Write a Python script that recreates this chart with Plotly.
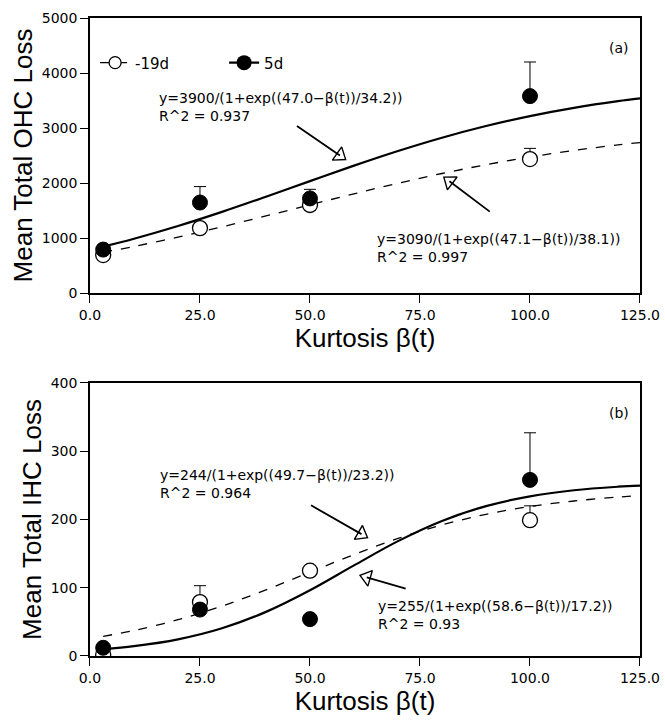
import plotly.graph_objects as go

# ---------------- data ----------------
x_pts = [3, 25, 50, 100]

ohc_m19 = [690, 1180, 1600, 2435]
ohc_m19_err = [0, 0, 0, 195]
ohc_5d = [790, 1645, 1720, 3580]
ohc_5d_err = [0, 290, 165, 620]

ihc_m19 = [2, 79, 125, 199]
ihc_m19_err = [0, 24, 0, 21]
ihc_5d = [12, 68, 54, 258]
ihc_5d_err = [0, 0, 0, 69]

# fitted curves
x_fit = [3, 10, 20, 30, 40, 50, 60, 70, 80, 90, 100, 110, 120, 125]
ohc_fit_5d = [844, 987, 1218, 1475, 1751, 2035, 2316, 2582, 2824, 3036, 3217, 3366, 3488, 3538]
ohc_fit_m19 = [739, 847, 1017, 1204, 1401, 1604, 1804, 1996, 2173, 2333, 2473, 2593, 2693, 2736]
ihc_fit_5d = [9.7, 14.3, 24.4, 40.6, 64.6, 96.3, 132.7, 168.3, 197.9, 219.6, 233.9, 242.8, 248.0, 249.7]
ihc_fit_m19 = [28.8, 37.3, 53.1, 73.1, 96.9, 122.8, 148.6, 172.2, 192.0, 207.5, 219.0, 227.1, 232.8, 234.9]

x_ticks = [0, 25, 50, 75, 100, 125]

TFONT = "Liberation Sans, Arial, sans-serif"
DFONT = "DejaVu Sans, sans-serif"

fig = go.Figure()

def add_panel(xa, ya, fit5, fitm, m19, m19e, d5, d5e):
    fig.add_trace(go.Scatter(x=x_fit, y=fitm, mode="lines", line=dict(color="black", width=1.3, dash="dash", shape="spline"),
                             xaxis=xa, yaxis=ya, showlegend=False, hoverinfo="skip"))
    fig.add_trace(go.Scatter(x=x_fit, y=fit5, mode="lines", line=dict(color="black", width=2.2, shape="spline"),
                             xaxis=xa, yaxis=ya, showlegend=False, hoverinfo="skip"))
    fig.add_trace(go.Scatter(x=x_pts, y=m19, mode="markers",
                             marker=dict(symbol="circle", size=15, color="white", line=dict(color="black", width=1.3)),
                             error_y=dict(type="data", array=m19e, arrayminus=[0]*4, symmetric=False, color="black", thickness=1, width=6),
                             xaxis=xa, yaxis=ya, showlegend=False))
    fig.add_trace(go.Scatter(x=x_pts, y=d5, mode="markers",
                             marker=dict(symbol="circle", size=15, color="black", line=dict(color="black", width=1)),
                             error_y=dict(type="data", array=d5e, arrayminus=[0]*4, symmetric=False, color="black", thickness=1, width=6),
                             xaxis=xa, yaxis=ya, showlegend=False))

add_panel("x", "y", ohc_fit_5d, ohc_fit_m19, ohc_m19, ohc_m19_err, ohc_5d, ohc_5d_err)
add_panel("x2", "y2", ihc_fit_5d, ihc_fit_m19, ihc_m19, ihc_m19_err, ihc_5d, ihc_5d_err)

# legend entries
fig.add_trace(go.Scatter(x=[None], y=[None], mode="lines+markers", name="-19d",
                         line=dict(color="black", width=1.3, dash="dash"),
                         marker=dict(symbol="circle", size=12, color="white", line=dict(color="black", width=1.3))))
fig.add_trace(go.Scatter(x=[None], y=[None], mode="lines+markers", name="5d",
                         line=dict(color="black", width=2.2),
                         marker=dict(symbol="circle", size=15, color="black")))

# arrows: (tail_x, tail_y, head_x, head_y, angle, xref, yref)
arrows = [
    (46.7, 3055, 56.8, 2500, 125, "x", "y"),
    (91.2, 1460, 81.7, 2031, 307, "x", "y"),
    (49.9, 222, 61.7, 178.5, 120, "x2", "y2"),
    (72.1, 98, 62.9, 115.2, 286, "x2", "y2"),
]
for tx, ty, hx, hy, ang, xr, yr in arrows:
    fig.add_annotation(x=hx, y=hy, ax=tx, ay=ty, xref=xr, yref=yr, axref=xr, ayref=yr,
                       showarrow=True, arrowhead=0, arrowwidth=1.8, arrowcolor="black", text="")
    fig.add_trace(go.Scatter(x=[hx], y=[hy], mode="markers", xaxis=xr, yaxis=yr,
                             marker=dict(symbol="triangle-up", size=14, angle=ang, color="white",
                                         line=dict(color="black", width=1.4)),
                             showlegend=False, hoverinfo="skip"))

texts = [
    ("y=3900/(1+exp((47.0\u2212\u03b2(t))/34.2))<br>R^2 = 0.937", 15.4, 3376, "x", "y"),
    ("y=3090/(1+exp((47.1\u2212\u03b2(t))/38.1))<br>R^2 = 0.997", 65.0, 827, "x", "y"),
    ("y=244/(1+exp((49.7\u2212\u03b2(t))/23.2))<br>R^2 = 0.964", 15.6, 252.7, "x2", "y2"),
    ("y=255/(1+exp((58.6\u2212\u03b2(t))/17.2))<br>R^2 = 0.93", 65.3, 60.5, "x2", "y2"),
]
for t, x, y, xr, yr in texts:
    fig.add_annotation(x=x, y=y, xref=xr, yref=yr, text=t, showarrow=False, xanchor="left", yanchor="middle",
                       align="left", borderpad=0, font=dict(size=14, color="black", family=DFONT))

fig.add_annotation(x=123, y=4455, xref="x", yref="y", text="(a)", showarrow=False, xanchor="right",
                   font=dict(size=14, color="black", family=DFONT))
fig.add_annotation(x=123, y=356, xref="x2", yref="y2", text="(b)", showarrow=False, xanchor="right",
                   font=dict(size=14, color="black", family=DFONT))

axis_common = dict(showline=True, linecolor="black", linewidth=1.5, mirror=True, ticks="outside",
                   ticklen=8, tickwidth=1, tickcolor="black", showgrid=False, zeroline=False,
                   automargin=False, tickfont=dict(size=14, color="black", family=DFONT))

fig.update_layout(
    width=665, height=723, margin=dict(l=0, r=0, t=0, b=0),
    paper_bgcolor="white", plot_bgcolor="white",
    font=dict(family=DFONT, color="black"),
    xaxis=dict(domain=[0.1353, 0.9624], range=[0, 125], tickvals=x_ticks, tickformat=".1f", anchor="y",
               title=dict(text="Kurtosis \u03b2(t)", font=dict(size=26, family=TFONT), standoff=4), **axis_common),
    yaxis=dict(domain=[0.5947, 0.9751], range=[0, 5000], dtick=1000, anchor="x",
               title=dict(text="Mean Total OHC Loss", font=dict(size=26, family=TFONT), standoff=2), **axis_common),
    xaxis2=dict(domain=[0.1353, 0.9624], range=[0, 125], tickvals=x_ticks, tickformat=".1f", anchor="y2",
                title=dict(text="Kurtosis \u03b2(t)", font=dict(size=26, family=TFONT), standoff=4), **axis_common),
    yaxis2=dict(domain=[0.0927, 0.4703], range=[0, 400], dtick=100, anchor="x2",
                title=dict(text="Mean Total IHC Loss", font=dict(size=26, family=TFONT), standoff=2), **axis_common),
    legend=dict(orientation="h", x=0.143, y=0.913, xanchor="left", yanchor="middle",
                font=dict(size=15, family=DFONT, color="black"), bgcolor="rgba(0,0,0,0)",
                tracegroupgap=0, entrywidth=84, entrywidthmode="pixels"),
    showlegend=True,
)

fig.write_html("out.html")
